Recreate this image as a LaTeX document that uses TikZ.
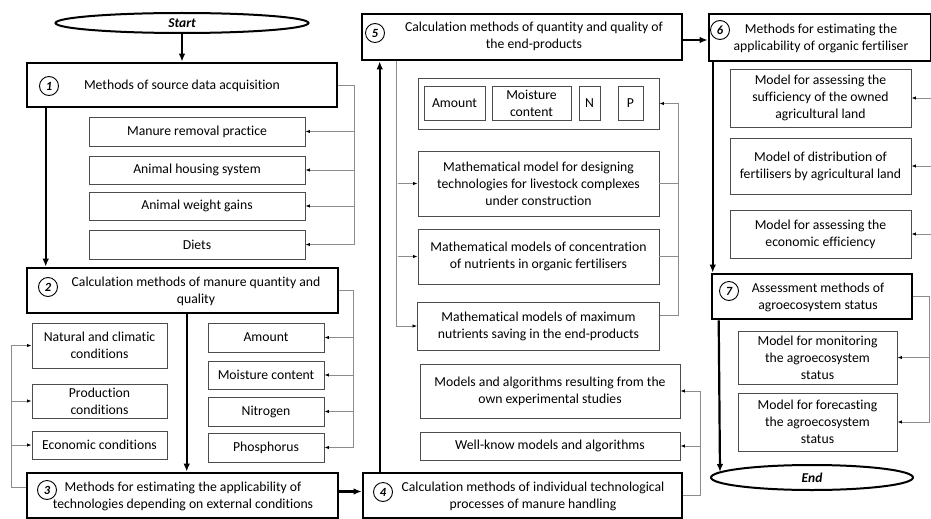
\documentclass[tikz,border=0pt]{standalone}
\usepackage{fontspec}
\setmainfont{Carlito}[Ligatures={NoCommon,NoContextual}]
\usetikzlibrary{arrows.meta,shapes.geometric,calc}
\begin{document}
\begin{tikzpicture}[x=1pt,y=-1pt,
  txt/.style={font=\fontsize{13.7}{17}\selectfont, align=center, inner sep=0pt},
  sz/.style 2 args={minimum width=#1, minimum height=#2},
  thickbox/.style={draw=black, line width=2.6pt, inner sep=0pt},
  thinbox/.style={draw=black!70, line width=0.9pt, inner sep=0pt, txt},
  numc/.style={circle, draw=black, line width=0.9pt, minimum size=19pt, inner sep=0pt, font=\fontsize{12.5}{14}\selectfont\bfseries\itshape},
  term/.style={ellipse, draw=black, line width=2pt, inner sep=0pt, font=\fontsize{13.5}{15}\selectfont\bfseries\itshape},
  bigarrow/.style={line width=2.2pt, -{Latex[length=8pt,width=6.5pt]}},
  conn/.style={draw=black!45, line width=0.8pt},
  tip/.style={-{Latex[length=4.5pt,width=3.5pt,color=black]}}
]
\fill[white] (0,0) rectangle (931,519);
\useasboundingbox (0,0) rectangle (931,519);

% Start / End
\node[term, sz={253}{20}] (start) at (182,23) {Start};
\node[term, sz={202}{25}] (end) at (812,477.5) {End};

% Box 1
\node[thickbox, sz={310}{44}] (b1) at (182,85) {};
\node[numc] (n1) at (49,86) {1};
\node[txt] (t1) at (182,86) {Methods of source data acquisition};
\node[thinbox, sz={216}{29}] (m1) at (197,131.5) {Manure removal practice};
\node[thinbox, sz={216}{28}] (m2) at (197,170) {Animal housing system};
\node[thinbox, sz={216}{28}] (m3) at (197,206) {Animal weight gains};
\node[thinbox, sz={216}{29}] (m4) at (197,244.5) {Diets};

% Box 2
\node[thickbox, sz={311}{45}] (b2) at (182.5,290.5) {};
\node[numc] (n2) at (48,287) {2};
\node[txt] (t2) at (196,291.5) {Calculation methods of manure quantity and\\quality};
\node[thinbox, sz={116}{29}] (q1) at (266,337.5) {Amount};
\node[thinbox, sz={116}{28}] (q2) at (266,375) {Moisture content};
\node[thinbox, sz={116}{29}] (q3) at (266,411.5) {Nitrogen};
\node[thinbox, sz={116}{29}] (q4) at (266,447.5) {Phosphorus};
\node[thinbox, sz={135}{45}] (c1) at (99.5,345.5) {Natural and climatic\\conditions};
\node[thinbox, sz={135}{34}] (c2) at (99.5,401) {Production\\conditions};
\node[thinbox, sz={135}{28}] (c3) at (99.5,445) {Economic conditions};

% Box 3
\node[thickbox, sz={311}{45}] (b3) at (182.5,495.5) {};
\node[numc] (n3) at (47,490) {3};
\node[txt] (t3) at (183,496.5) {Methods for estimating the applicability of\\technologies depending on external conditions};

% Box 4
\node[thickbox, sz={319}{45}] (b4) at (522.5,495.5) {};
\node[numc] (n4) at (383,492) {4};
\node[txt] (t4) at (533,496.5) {Calculation methods of individual technological\\processes of manure handling};
\node[thinbox, sz={260}{54}] (own) at (550,391) {Models and algorithms resulting from the\\own experimental studies};
\node[thinbox, sz={260}{28}] (well) at (550,446) {Well-know models and algorithms};

% Box 5
\node[thickbox, sz={320}{46}] (b5) at (522,37) {};
\node[numc] (n5) at (375,33) {5};
\node[txt] (t5) at (534,36.5) {Calculation methods of quantity and quality of\\the end-products};
\node[draw=black!70, line width=0.9pt, sz={241}{51}, inner sep=0pt] (grp) at (538.5,103.5) {};
\node[thinbox, sz={61}{34}] (ga) at (454.5,103) {Amount};
\node[thinbox, sz={79}{34}] (gm) at (531.5,103) {Moisture\\content};
\node[thinbox, sz={21}{34}] (gn) at (589.5,103) {N};
\node[thinbox, sz={25}{34}] (gp) at (630.5,103) {P};
\node[thinbox, sz={241}{65}] (design) at (538.5,183.5) {Mathematical model for designing\\technologies for livestock complexes\\under construction};
\node[thinbox, sz={241}{55}] (conc) at (538.5,256.5) {Mathematical models of concentration\\of nutrients in organic fertilisers};
\node[thinbox, sz={242}{48}] (maxn) at (538.5,326) {Mathematical models of maximum\\nutrients saving in the end-products};

% Box 6
\node[thickbox, sz={222}{47}] (b6) at (820,37.5) {};
\node[numc] (n6) at (720,30) {6};
\node[txt] (t6) at (821,38.5) {Methods for estimating the\\applicability of organic fertiliser};
\node[thinbox, sz={181}{58}] (s6a) at (820.5,98) {Model for assessing the\\sufficiency of the owned\\agricultural land};
\node[thinbox, sz={181}{56}] (s6b) at (820.5,166) {Model of distribution of\\fertilisers by agricultural land};
\node[thinbox, sz={181}{48}] (s6c) at (820.5,234) {Model for assessing the\\economic efficiency};
\coordinate (e6a) at (931,98);
\coordinate (e6b) at (931,166);
\coordinate (e6c) at (931,234);

% Box 7
\node[thickbox, sz={200}{45}] (b7) at (812,296.5) {};
\node[numc] (n7) at (729,291) {7};
\node[txt] (t7) at (818,297.5) {Assessment methods of\\agroecosystem status};
\node[thinbox, sz={159}{53}] (s7a) at (817.5,357.5) {Model for monitoring\\the agroecosystem\\status};
\node[thinbox, sz={159}{58}] (s7b) at (817.5,422) {Model for forecasting\\the agroecosystem\\status};
\coordinate (endp) at (720,472);

% Main thick arrows
\draw[bigarrow] (start.south) -- (start.south |- b1.north);
\draw[bigarrow] ($(b1.south west)+(20,0)$) -- ($(b2.north west)+(20,0)$);
\draw[bigarrow] ($(b2.south west)+(161,0)$) -- ($(b3.north west)+(161,0)$);
\draw[bigarrow] ($(b3.east)+(0,-4)$) -- ($(b4.west)+(0,-4)$);
\draw[bigarrow] ($(b4.north west)+(18,0)$) -- ($(b5.south west)+(19,0)$);
\draw[bigarrow] ($(b5.east)+(0,3)$) -- ($(b6.west)+(0,2.5)$);
\draw[bigarrow] ($(b6.south west)+(5,0)$) -- ($(b7.north west)+(2,0)$);
\draw[bigarrow] ($(b7.south west)+(8,0)$) -- (endp);

% Box 1 bus
\draw[conn,tip] (b1.east) -| ($(m4.east)+(49,0)$) -- (m4.east);
\draw[conn,tip] ($(m1.east)+(49,0)$) -- (m1.east);
\draw[conn,tip] ($(m2.east)+(49,0)$) -- (m2.east);
\draw[conn,tip] ($(m3.east)+(49,0)$) -- (m3.east);

% Box 2 bus
\draw[conn,tip] (b2.east) -| ($(q4.east)+(29,0)$) -- (q4.east);
\draw[conn,tip] ($(q1.east)+(29,0)$) -- (q1.east);
\draw[conn,tip] ($(q2.east)+(29,0)$) -- (q2.east);
\draw[conn,tip] ($(q3.east)+(29,0)$) -- (q3.east);

% Box 3 bus (left)
\draw[conn,tip] ($(b3.west)+(0,-8)$) -| ($(c1.west)+(-20,0)$) -- (c1.west);
\draw[conn,tip] ($(c2.west)+(-20,0)$) -- (c2.west);
\draw[conn,tip] ($(c3.west)+(-20,0)$) -- (c3.west);

% Box 5 bus
\draw[conn,tip] ($(b5.south west)+(36,0)$) |- (maxn.west);
\draw[conn,tip] ($(design.west)+(-20,0)$) -- (design.west);
\draw[conn,tip] ($(conc.west)+(-20,0)$) -- (conc.west);
\draw[conn,tip] ($(maxn.east)+(0,-11)$) -| ($(grp.east)+(19,0)$) -- (grp.east);
\draw[conn] (design.east) -- ++(19,0);
\draw[conn] (conc.east) -- ++(19,0);

% Box 4 bus
\draw[conn,tip] (b4.east) -| ($(own.east)+(20,0)$) -- (own.east);
\draw[conn,tip] ($(well.east)+(20,0)$) -- (well.east);

% Box 6 arrows
\draw[conn,tip] (e6a) -- (s6a.east);
\draw[conn,tip] (e6b) -- (s6b.east);
\draw[conn,tip] (e6c) -- (s6c.east);

% Box 7 bus
\draw[conn,tip] (b7.east) -| ($(s7b.east)+(32,0)$) -- (s7b.east);
\draw[conn,tip] ($(s7a.east)+(32,0)$) -- (s7a.east);
\end{tikzpicture}
\end{document}
